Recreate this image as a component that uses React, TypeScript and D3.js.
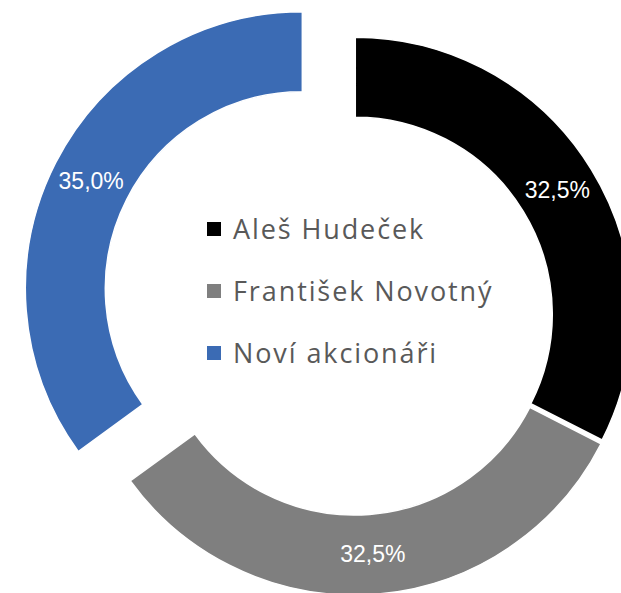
import * as d3 from "d3";

const owners = ["Aleš Hudeček", "František Novotný", "Noví akcionáři"];
const shares = [32.5, 32.5, 35.0];
const colors = ["#000000", "#7f7f7f", "#3b6bb4"];
// how far each slice is pulled out of the ring
const explode = [1.5, 3, 58];

const W = 621;
const H = 593;
const cx = 354;
const cy = 315;
const outerR = 277;
const innerR = 197;

const fmt = (v: number) => d3.format(".1f")(v).replace(".", ",") + "%";

export default function App() {
  const pie = d3
    .pie<number>()
    .sort(null)
    .value((d) => d)
    .startAngle(0)
    .endAngle(2 * Math.PI);
  const arcs = pie(shares);

  const arc = d3
    .arc<d3.PieArcDatum<number>>()
    .innerRadius(innerR)
    .outerRadius(outerR);

  const legendY = d3
    .scalePoint<string>()
    .domain(owners)
    .range([229, 353]);

  return (
    <svg
      width={W}
      height={H}
      style={{ position: "absolute", left: 0, top: 0, background: "#fff" }}
    >
      {arcs.map((a, i) => {
        const mid = (a.startAngle + a.endAngle) / 2;
        const dx = Math.sin(mid) * explode[i];
        const dy = -Math.cos(mid) * explode[i];
        const [lx, ly] = arc.centroid(a);
        return (
          <g key={owners[i]} transform={`translate(${cx + dx},${cy + dy})`}>
            <path d={arc(a) || ""} fill={colors[i]} stroke="#fff" strokeWidth={1.5} />
            <text
              x={lx}
              y={ly}
              dy="0.35em"
              textAnchor="middle"
              fill="#fff"
              fontFamily="'Liberation Sans', Arial, sans-serif"
              fontSize={23}
            >
              {fmt(shares[i])}
            </text>
          </g>
        );
      })}
      {owners.map((o, i) => (
        <g key={o} transform={`translate(207,${legendY(o)})`}>
          <rect x={0} y={-7} width={14} height={14} fill={colors[i]} />
          <text
            x={26}
            y={0}
            dy="0.36em"
            fill="#595959"
            fontFamily="'Open Sans', sans-serif"
            fontSize={27}
            letterSpacing={1.9}
          >
            {o}
          </text>
        </g>
      ))}
    </svg>
  );
}
